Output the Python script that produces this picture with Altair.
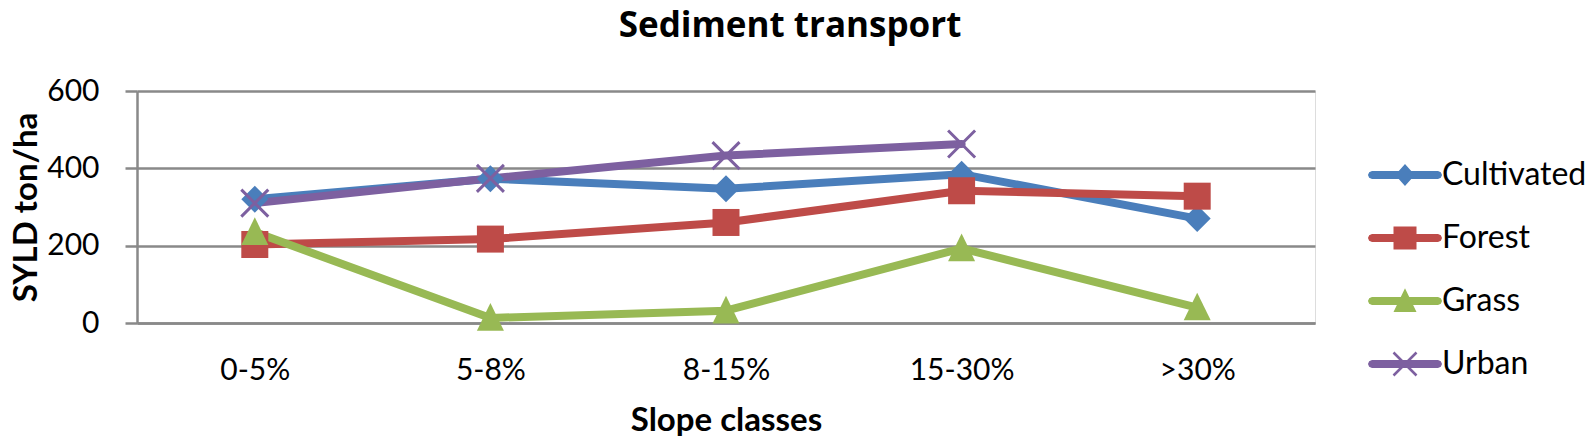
import altair as alt
import pandas as pd

# ---- data ----
categories = ["0-5%", "5-8%", "8-15%", "15-30%", ">30%"]
series = ["Cultivated", "Forest", "Grass", "Urban"]
cultivated = [320, 373, 347, 385, 270]
forest = [203, 217, 260, 342, 328]
grass = [235, 13, 32, 193, 40]
urban = [310, 374, 433, 463, None]
y_ticks = [0, 200, 400, 600]

colors = ["#4A7EBB", "#BE4B48", "#98B954", "#7D60A0"]

rows = []
for name, vals in zip(series, [cultivated, forest, grass, urban]):
    for cat, v in zip(categories, vals):
        if v is not None:
            rows.append({"Series": name, "Slope": cat, "SYLD": v})
df = pd.DataFrame(rows)

# ---- marker shapes (unit paths) ----
DIAMOND = "M0,-1L1,0L0,1L-1,0Z"
SQUARE = "M-1,-1L1,-1L1,1L-1,1Z"
TRIANGLE = "M0,-1.1L1,0.95L-1,0.95Z"
XMARK = ("M-0.922,-1.078L1.078,0.922L0.922,1.078L-1.078,-0.922Z"
         "M-0.922,1.078L-1.078,0.922L0.922,-1.078L1.078,-0.922Z")
marker_paths = [DIAMOND, SQUARE, TRIANGLE, XMARK]

# legend key: thick line with rounded ends + marker
LINE = ("M-2.87,-0.35L2.87,-0.35L3.117,-0.247L3.22,0L3.117,0.247L2.87,0.35"
        "L-2.87,0.35L-3.117,0.247L-3.22,0L-3.117,-0.247Z")
legend_paths = [LINE + "M0,-0.95L0.85,0L0,0.95L-0.85,0Z",
                LINE + SQUARE,
                LINE + TRIANGLE,
                LINE + XMARK]

GRID = "#898989"
FONT = "Lato"

x_enc = alt.X("Slope:O", sort=categories,
              scale=alt.Scale(padding=0.5),
              axis=alt.Axis(title="Slope classes", labelAngle=0, labelFont=FONT,
                            labelFontSize=30, labelColor="black", labelPadding=32,
                            labelBaseline="top",
                            ticks=False, domain=True, domainColor=GRID, domainWidth=2.5,
                            grid=False, titleFont=FONT, titleFontSize=33,
                            titleFontWeight="bold", titleColor="black",
                            titleBaseline="alphabetic", titleX=589, titleY=107))
y_enc = alt.Y("SYLD:Q",
              scale=alt.Scale(domain=[0, 600], nice=False),
              axis=alt.Axis(title="SYLD ton/ha", values=y_ticks, labelFont=FONT,
                            labelFontSize=30, labelColor="black", labelPadding=26,
                            tickSize=12, tickColor=GRID, tickWidth=2.5,
                            domain=True, domainColor=GRID, domainWidth=2.5,
                            grid=True, gridColor=GRID, gridWidth=2.5,
                            titleFont=FONT, titleFontSize=33, titleFontWeight="bold",
                            titleColor="black", titleAngle=270, titleAlign="center",
                            titleBaseline="alphabetic", titleX=-101, titleY=116))

color_scale = alt.Scale(domain=series, range=colors)

lines = alt.Chart(df).mark_line(strokeWidth=8, strokeCap="round", strokeJoin="round").encode(
    x=x_enc, y=y_enc,
    color=alt.Color("Series:N", scale=color_scale, legend=None),
)

points = alt.Chart(df).mark_point(filled=True, opacity=1, size=729, strokeWidth=0).encode(
    x=x_enc, y=y_enc,
    color=alt.Color("Series:N", scale=color_scale, legend=None),
    shape=alt.Shape("Series:N", scale=alt.Scale(domain=series, range=marker_paths), legend=None),
)

leg = alt.Legend(title=None, orient="none", legendX=1231, legendY=68,
                 labelFont=FONT, labelFontSize=32, labelColor="black",
                 symbolSize=529, symbolStrokeWidth=0, symbolOpacity=1,
                 symbolOffset=21, labelOffset=21, rowPadding=31, padding=0)

legend_layer = alt.Chart(df).transform_filter("false").mark_point(
    filled=True, opacity=1, size=529, strokeWidth=0).encode(
    x=x_enc, y=y_enc,
    color=alt.Color("Series:N", scale=alt.Scale(domain=series, range=colors), legend=leg),
    shape=alt.Shape("Series:N", scale=alt.Scale(domain=series, range=legend_paths), legend=leg),
)

chart = alt.layer(lines, points, legend_layer).resolve_scale(
    color="independent", shape="independent"
).resolve_legend(
    color="independent", shape="independent"
).properties(
    width=1178, height=232,
    padding={"left": 129, "top": 83, "right": 271, "bottom": 114},
    autosize=alt.AutoSizeParams(type="none"),
    title=alt.Title("Sediment transport", font="Open Sans", fontSize=35, fontWeight="bold",
                    color="black", anchor="middle", frame="group", orient="top",
                    dx=64, offset=32),
).configure_view(fill="#F2F2F2", stroke="transparent").configure(font=FONT)

chart.save("out.html", embed_options={"renderer": "svg", "actions": False})
